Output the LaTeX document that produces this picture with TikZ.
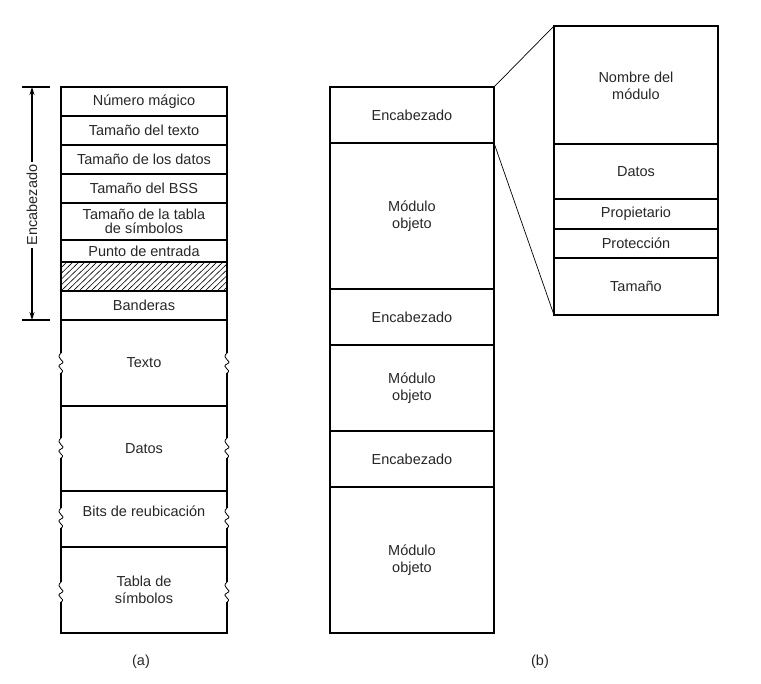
\documentclass[tikz,border=0pt]{standalone}
\usepackage{fontspec}
\setmainfont{Liberation Sans}
\usetikzlibrary{patterns,arrows.meta}
\begin{document}
\begin{tikzpicture}[x=1pt,y=-1pt,line width=1.2pt,
  lbl/.style={font=\fontsize{14.5}{17.5}\selectfont,align=center,text=black!85},
  sq/.pic={\fill[white] (-5,-10) rectangle (5,10); \draw[line width=0.8pt] (0,-10) .. controls (-7,-4) and (7,-2) .. (0,1) .. controls (-7,4) and (6,7) .. (0,10);}]
\useasboundingbox (0,0) rectangle (761,684);
% (a)
\draw (61,87) rectangle (227,633);
\foreach \y in {116,145,174,203,240,262,291,320,406,491,547}{\draw (61,\y) -- (227,\y);}
\begin{scope}
\clip (61,262) rectangle (227,291);
\foreach \i in {0,6,...,200}{\draw[line width=0.6pt] (61+\i-30,291) -- (61+\i,262);}
\end{scope}
\draw (61,262) rectangle (227,291);
\node[lbl] (a1) at (144,101.5) {Número mágico};
\node[lbl] (a2) at (144,130.5) {Tamaño del texto};
\node[lbl] (a3) at (144,159.5) {Tamaño de los datos};
\node[lbl] (a4) at (144,188.5) {Tamaño del BSS};
\node[lbl,inner sep=0pt] (a5) at (144,221.5) {Tamaño de la tabla\\[-3pt]de símbolos};
\node[lbl] (a6) at (144,251) {Punto de entrada};
\node[lbl] (a7) at (144,305.5) {Banderas};
\node[lbl] (a8) at (144,363) {Texto};
\node[lbl] (a9) at (144,448.5) {Datos};
\node[lbl] (a10) at (144,511) {Bits de reubicación};
\node[lbl,inner sep=0pt] (a11) at (144,590) {Tabla de\\símbolos};
\foreach \y in {363,448,518,592}{\pic at (61,\y) {sq}; \pic at (227,\y) {sq};}
\draw (22,87) -- (50,87); \draw (22,320) -- (50,320);
\coordinate (et) at (32,87); \coordinate (eb) at (32,320);
\node[lbl,rotate=90,fill=white,inner sep=2pt] (enc) at (32,205) {Encabezado};
\draw[-{Stealth[length=8pt,width=5pt]}] (enc.east) -- (et);
\draw[-{Stealth[length=8pt,width=5pt]}] (enc.west) -- (eb);
\node[lbl] (la) at (141,662) {(a)};
% (b)
\draw (330,87) rectangle (494,633);
\foreach \y in {143,289,345,431,487}{\draw (330,\y) -- (494,\y);}
\node[lbl] (b1) at (412,115) {Encabezado};
\node[lbl,inner sep=0pt] (b2) at (412,216) {Módulo\\objeto};
\node[lbl] (b3) at (412,317) {Encabezado};
\node[lbl,inner sep=0pt] (b4) at (412,388) {Módulo\\objeto};
\node[lbl] (b5) at (412,459) {Encabezado};
\node[lbl,inner sep=0pt] (b6) at (412,560) {Módulo\\objeto};
\node[lbl] (lb) at (540,662) {(b)};
% right
\draw (554,26) rectangle (718,315);
\foreach \y in {144,199,229,258}{\draw (554,\y) -- (718,\y);}
\node[lbl,inner sep=0pt] (c1) at (636,86) {Nombre del\\módulo};
\node[lbl] (c2) at (636,171.5) {Datos};
\node[lbl] (c3) at (636,214) {Propietario};
\node[lbl] (c4) at (636,243.5) {Protección};
\node[lbl] (c5) at (636,286.5) {Tamaño};
\draw[line width=0.7pt] (494,87) -- (554,26);
\draw[line width=0.7pt] (494,143) -- (554,315);
\end{tikzpicture}
\end{document}
